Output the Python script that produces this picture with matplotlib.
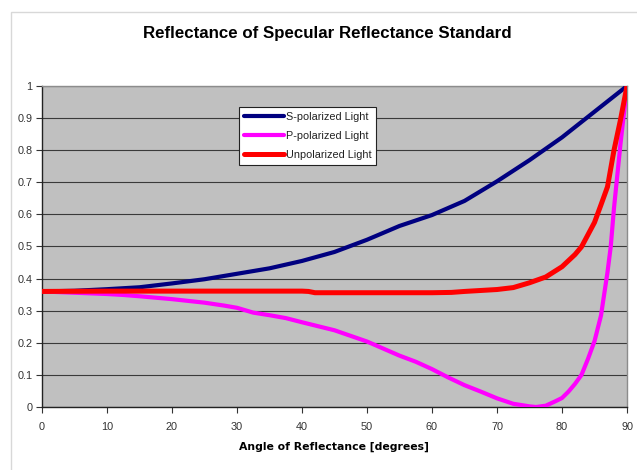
import matplotlib
matplotlib.use("Agg")
import matplotlib.pyplot as plt
from matplotlib.patches import Rectangle
from matplotlib.ticker import FuncFormatter

plt.rcParams['font.family'] = ['Liberation Sans', 'DejaVu Sans']

# --- data ---
s_angle = [0, 5, 10, 15, 20, 25, 30, 35, 40, 45, 50, 55, 60, 65, 70, 75, 80, 85, 87.5, 90]
s_refl = [0.360, 0.362, 0.367, 0.373, 0.385, 0.398, 0.415, 0.432, 0.455, 0.483, 0.521,
          0.564, 0.598, 0.642, 0.703, 0.769, 0.840, 0.920, 0.960, 1.0]

p_angle = [0, 5, 10, 12.5, 15, 20, 25, 28, 30, 32.5, 35, 37.5, 40, 45, 50, 55, 57.5, 60,
           62.5, 65, 67.5, 70, 72.5, 75, 76, 77.5, 79, 80, 81, 82, 83, 84, 85, 86, 87,
           87.5, 88, 88.5, 89, 89.5, 90]
p_refl = [0.360, 0.356, 0.352, 0.349, 0.345, 0.336, 0.325, 0.316, 0.309, 0.294, 0.286,
          0.277, 0.264, 0.239, 0.204, 0.160, 0.141, 0.118, 0.092, 0.068, 0.048, 0.027,
          0.010, 0.002, 0.0, 0.004, 0.018, 0.028, 0.048, 0.072, 0.100, 0.150, 0.205,
          0.285, 0.420, 0.500, 0.620, 0.720, 0.820, 0.910, 1.0]

u_angle = [0, 10, 20, 30, 40, 41, 42, 50, 60, 63, 65, 70, 72.5, 75, 77.5, 80, 82, 83,
           85, 86, 87, 88, 89, 90]
u_refl = [0.360, 0.361, 0.361, 0.361, 0.361, 0.360, 0.356, 0.356, 0.356, 0.357, 0.360,
          0.366, 0.372, 0.387, 0.405, 0.437, 0.475, 0.499, 0.575, 0.630, 0.686, 0.800,
          0.895, 1.0]

labels = ['S-polarized Light', 'P-polarized Light', 'Unpolarized Light']
colors = ['#000080', '#FF00FF', '#FF0000']

title = 'Reflectance of Specular Reflectance Standard'
xlabel = 'Angle of Reflectance [degrees]'
xticks = [0, 10, 20, 30, 40, 50, 60, 70, 80, 90]
yticks = [0, 0.1, 0.2, 0.3, 0.4, 0.5, 0.6, 0.7, 0.8, 0.9, 1]

# --- figure ---
W, H = 637, 470
fig = plt.figure(figsize=(W / 100, H / 100), dpi=100)
fig.patch.set_facecolor('white')

# chart area border
fig.patches.append(Rectangle((10.5 / W, -0.05), 1.1, 1 - 12 / H + 0.05,
                             transform=fig.transFigure, fill=False,
                             edgecolor='#D8D8D8', linewidth=1.0))

ax = fig.add_axes([42 / W, 1 - 407 / H, 585 / W, 321 / H])
ax.set_facecolor('#C0C0C0')

ax.plot(s_angle, s_refl, color=colors[0], lw=3.0, label=labels[0], solid_joinstyle='round',
        solid_capstyle='round', zorder=3)
ax.plot(p_angle, p_refl, color=colors[1], lw=3.0, label=labels[1], solid_joinstyle='round',
        solid_capstyle='round', zorder=3)
ax.plot(u_angle, u_refl, color=colors[2], lw=3.6, label=labels[2], solid_joinstyle='round',
        solid_capstyle='round', zorder=3)

ax.set_xlim(0, 90)
ax.set_ylim(0, 1)
ax.set_xticks(xticks)
ax.set_yticks(yticks)
ax.yaxis.set_major_formatter(FuncFormatter(lambda v, p: ('%g' % v)))
ax.tick_params(axis='both', direction='out', length=4.5, width=0.8, color='#333333',
               labelsize=7.8, labelcolor='#333333')
ax.tick_params(axis='x', pad=6)
ax.tick_params(axis='y', pad=2.5)
ax.grid(axis='y', color='#3a3a3a', linewidth=0.8, zorder=1)
ax.set_axisbelow(True)

for side in ['left', 'bottom']:
    ax.spines[side].set_color('#222222')
    ax.spines[side].set_linewidth(1.0)
for side in ['top', 'right']:
    ax.spines[side].set_color('#8c8c8c')
    ax.spines[side].set_linewidth(1.0)

fig.text(327 / W, 1 - 33.5 / H, title, ha='center', va='center', fontsize=12.2,
         fontweight='bold', color='black')
fig.text(333.5 / W, 1 - 447 / H, xlabel, ha='center', va='center', fontsize=7.8,
         fontweight='bold', color='black', family=['DejaVu Sans'])

leg = ax.legend(loc='upper left', bbox_to_anchor=((239 - 42) / 585, (407 - 107) / 321),
                fontsize=7.8, frameon=True, fancybox=False, framealpha=1,
                edgecolor='#222222', borderpad=0.45, labelspacing=0.85,
                handlelength=3.7, handletextpad=0.15, borderaxespad=0)
leg.get_frame().set_linewidth(0.8)
for t in leg.get_texts():
    t.set_color('#222222')

fig.savefig('out.png', dpi=100)
